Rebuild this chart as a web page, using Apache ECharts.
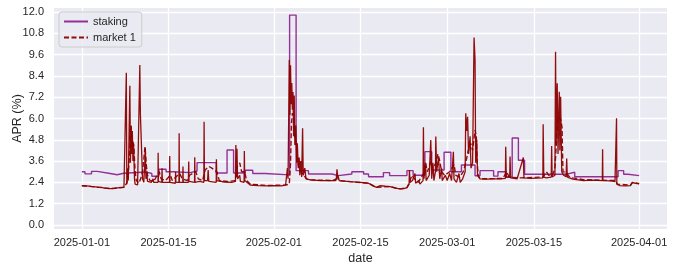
<!DOCTYPE html>
<html><head><meta charset="utf-8">
<script src="https://cdn.jsdelivr.net/npm/echarts@6/dist/echarts.min.js"></script>
<style>html,body{margin:0;padding:0;background:#fff}#c{width:675px;height:271px}</style>
</head><body><div id="c"></div>
<script>
// x values are days since 2025-01-01
const xTickDays = [0, 14, 31, 45, 59, 73, 90];
const xTickLabels = ['2025-01-01', '2025-01-15', '2025-02-01', '2025-02-15', '2025-03-01', '2025-03-15', '2025-04-01'];
const yTicks = [0, 1.2, 2.4, 3.6, 4.8, 6.0, 7.2, 8.4, 9.6, 10.8, 12.0];

const stakingPoints = [
  [0,3.0],[0.5,2.88],[1.56,3.02],[2.48,2.91],[4.35,2.83],[5.7,2.91],[6.77,2.98],[10.4,2.9],[11.3,2.74],
  [12.45,3.14],[13.6,3.0],[14.8,2.95],[17.5,3.04],[18.6,3.51],[21.7,2.93],[23.45,4.22],[24.5,2.93],
  [26.4,3.08],[27.6,2.9],[29.6,2.82],[33.55,11.83],[34.6,3.06],[36.6,2.87],[40.4,2.78],[41.4,2.87],
  [43.6,3.0],[45.5,2.87],[46.3,2.72],[48.7,2.95],[49.7,2.78],[52.5,3.06],[53.5,2.8],[55.4,4.13],
  [56.5,3.1],[58.5,4.1],[59.6,3.0],[61.3,3.38],[63.5,2.77],[64.3,3.06],[66.5,2.75],[67.2,3.0],
  [68.5,2.7],[69.5,4.9],[70.5,3.65],[71.5,2.86],[78.3,2.97],[79.6,2.72],[86.6,3.06],[87.5,2.86],
  [88.2,2.78],[90,2.78]
];

const market1Points = [
  [0,2.21],[2.5,2.13],[4.6,2.05],[6.8,2.12],[7.1,2.15],[7.3,2.4],[7.55,3.2],[7.8,4.6],[7.95,5.6],
  [8.1,4.3],[8.25,4.7],[8.4,4.4],[8.6,3.0],[8.8,2.5],[9.2,2.35],[9.5,2.6],[9.8,3.0],[10.0,3.7],
  [10.2,4.4],[10.4,3.4],[10.6,2.8],[11.0,2.5],[11.6,2.45],[12.0,2.7],[12.5,3.0],[12.8,2.6],[13.5,2.5],
  [14.3,2.8],[14.6,2.5],[15.8,2.9],[16.2,2.6],[17.0,2.5],[17.4,2.8],[18.4,3.0],[18.8,2.6],[19.5,2.5],
  [19.9,3.1],[20.5,3.3],[21.0,3.2],[21.8,3.0],[22.2,2.5],[23.5,2.45],[24.8,2.5],[25.1,3.3],[25.5,3.5],
  [25.8,3.0],[26.3,3.0],[26.6,2.5],[27.2,2.3],[30,2.22],[32.9,2.25],[33.5,2.3],[33.7,3.5],[33.85,5.7],
  [34.0,6.3],[34.2,6.0],[34.4,5.0],[34.6,4.6],[34.8,3.8],[35.0,3.3],[35.4,3.0],[35.8,2.8],[36.3,2.6],
  [36.9,2.54],[41.0,2.5],[41.3,2.8],[41.6,2.5],[43.3,2.44],[46.3,2.35],[47.6,2.12],[49.8,2.16],
  [51.4,2.03],[52.5,2.1],[52.9,2.4],[53.3,2.8],[53.7,2.6],[54.3,2.4],[55.2,2.9],[55.5,3.5],[55.8,3.0],
  [56.4,3.6],[56.7,3.2],[57.2,3.5],[57.5,4.0],[57.8,3.6],[58.1,3.0],[58.6,2.8],[59.4,3.0],[60.1,3.4],
  [60.4,2.8],[61.0,2.7],[61.6,3.0],[62.0,3.5],[62.4,4.2],[62.8,4.6],[63.1,4.2],[63.5,5.35],[63.7,5.0],
  [63.85,3.5],[64.0,2.8],[64.3,2.6],[68,2.62],[68.6,3.0],[69.0,2.7],[70.5,2.65],[74.5,2.7],[75.0,3.0],
  [75.4,2.8],[76.0,2.8],[76.4,3.2],[76.7,5.0],[76.9,6.1],[77.1,6.0],[77.3,6.0],[77.55,5.5],[77.7,3.0],
  [77.9,2.9],[78.3,2.95],[78.6,2.75],[79.3,2.65],[81,2.55],[84,2.52],[86.1,2.5],[86.5,2.3],[88.6,2.24],
  [88.9,2.4],[90,2.33]
];

const marketRawPoints = [
  [0,2.21],[0.8,2.2],[1.5,2.17],[2.5,2.13],[3.2,2.12],[3.6,2.08],[4.6,2.05],[5.3,2.06],[6.0,2.1],[6.8,2.12],[7.1,2.15],
  [7.18,8.58],[7.26,2.3],[7.4,3.2],[7.5,2.5],[7.75,7.85],[7.85,3.5],[7.95,5.58],[8.05,4.0],[8.15,5.3],[8.25,3.6],
  [8.35,4.6],[8.5,2.6],[8.6,2.3],[9.0,2.25],[9.3,2.3],[9.36,9.01],[9.45,6.29],[9.75,6.2],[9.8,2.6],[10.0,2.4],
  [10.15,3.4],[10.25,4.35],[10.35,2.6],[10.5,3.0],[10.6,2.45],[11.2,2.4],[11.5,2.6],[11.6,2.4],[12.3,2.4],
  [12.32,4.07],[12.36,2.45],[12.9,2.4],[12.95,3.2],[13.0,2.4],[13.6,2.4],[13.8,2.45],[14.15,2.4],[14.19,3.89],
  [14.23,2.4],[15.1,2.35],[15.14,3.0],[15.18,2.4],[15.68,2.4],[15.71,5.17],[15.75,2.4],[16.3,2.4],[16.33,3.3],
  [16.37,2.4],[17.2,2.4],[17.26,3.57],[17.3,2.45],[18.2,2.4],[18.23,3.81],[18.27,2.4],[19.0,2.45],[19.7,2.4],
  [19.74,5.82],[19.8,2.5],[20.3,2.5],[20.4,3.1],[20.5,2.45],[21.7,2.4],[21.73,3.7],[21.8,2.5],[22.0,2.4],
  [23,2.42],[24.2,2.4],[24.8,2.45],[24.87,4.5],[24.95,2.7],[25.05,4.3],[25.15,2.6],[25.5,2.8],[25.6,2.45],
  [26.2,2.4],[26.24,4.17],[26.3,2.5],[27.2,2.25],[28.5,2.22],[29.9,2.2],[31,2.22],[32.2,2.2],[32.9,2.25],
  [33.1,2.3],[33.2,3.2],[33.3,2.6],[33.4,5.9],[33.5,9.3],[33.6,6.2],[33.7,9.0],[33.8,6.8],[33.9,8.0],
  [34.0,6.5],[34.1,7.5],[34.2,5.0],[34.3,7.3],[34.4,4.5],[34.55,5.6],[34.7,3.5],[34.8,4.6],[34.95,3.2],
  [35.1,3.8],[35.2,2.8],[35.35,3.6],[35.5,2.7],[35.65,5.45],[35.75,2.8],[36.0,3.2],[36.2,2.6],[36.9,2.54],
  [38.5,2.5],[40.5,2.5],[41.1,2.6],[41.2,3.14],[41.35,2.6],[41.7,2.48],[43.3,2.44],[45,2.4],[46.3,2.35],
  [47.0,2.2],[47.6,2.12],[48.2,2.22],[49.0,2.18],[49.8,2.16],[50.6,2.08],[51.4,2.03],[52.0,2.05],[52.5,2.1],
  [52.85,2.3],[52.9,3.1],[53.0,2.4],[53.4,2.5],[53.8,2.9],[53.9,2.35],[54.4,2.5],[54.6,2.3],[55.1,2.5],
  [55.16,5.5],[55.25,2.6],[55.5,3.5],[55.6,2.5],[56.1,2.8],[56.35,4.79],[56.5,2.6],[56.7,3.5],[56.85,2.5],
  [57.1,3.0],[57.16,4.98],[57.3,3.0],[57.6,3.8],[57.8,2.6],[58.1,3.2],[58.2,2.5],[58.7,2.8],[59.0,2.5],
  [59.4,2.9],[59.7,2.5],[60.0,4.13],[60.1,2.6],[60.5,2.4],[60.9,2.9],[61.1,2.4],[61.5,2.6],[61.9,3.0],
  [62.0,6.29],[62.15,5.3],[62.3,6.1],[62.45,4.0],[62.7,5.0],[62.85,3.2],[63.1,3.5],[63.34,10.57],[63.5,9.3],
  [63.6,3.5],[63.77,4.8],[63.9,2.8],[64.3,2.6],[65.5,2.58],[66.5,2.6],[67.5,2.6],[68.4,2.62],[68.45,4.41],
  [68.55,2.7],[69.1,2.7],[69.15,3.85],[69.25,2.65],[70.3,2.6],[71.3,3.8],[71.4,2.65],[72.5,2.62],[74.45,2.65],
  [74.5,5.67],[74.6,2.7],[75.0,2.65],[75.8,2.7],[75.87,4.45],[75.95,2.7],[76.4,2.8],[76.5,9.76],[76.6,4.5],
  [76.77,7.98],[76.9,4.0],[77.1,7.51],[77.2,4.2],[77.32,7.23],[77.5,3.0],[77.8,2.8],[78.2,2.72],[78.3,3.75],
  [78.4,2.7],[79.3,2.58],[81,2.5],[82.5,2.52],[84.05,2.5],[84.1,4.26],[84.15,2.5],[85.5,2.48],[86.1,2.44],
  [86.33,2.44],[86.35,6.01],[86.4,2.3],[86.8,2.22],[87.8,2.2],[88.6,2.22],[88.9,2.38],[89.4,2.35],[90,2.31]
];

const FONT = '"Liberation Sans", Arial, sans-serif';
const TXT = '#262626';
const PURPLE = 'rgba(128,0,128,0.8)';
const DARKRED = 'rgba(139,0,0,0.95)';

const xGridLines = xTickDays.map((d, i) => ({ xAxis: d, label: { formatter: xTickLabels[i] } }));

const chart = echarts.init(document.getElementById('c'), null, { renderer: 'canvas' });
chart.setOption({
  animation: false,
  textStyle: { fontFamily: FONT },
  grid: { left: 54, right: 8, top: 8, bottom: 42, show: true, backgroundColor: '#EAEAF2', borderWidth: 0,
          containLabel: false, outerBoundsMode: 'none' },
  legend: {
    data: ['staking', 'market 1'],
    orient: 'vertical', left: 59, top: 12,
    padding: [4, 6, 4, 4], itemWidth: 24, itemHeight: 11, itemGap: 5,
    itemStyle: { opacity: 0 },
    backgroundColor: 'rgba(234,234,242,0.8)', borderColor: '#cccccc', borderWidth: 1, borderRadius: 3,
    textStyle: { fontSize: 11, color: TXT, fontFamily: FONT }
  },
  xAxis: {
    type: 'value', min: -4.5, max: 94.5,
    name: 'date', nameLocation: 'middle', nameGap: 23, nameMoveOverlap: false,
    nameTextStyle: { fontSize: 12.5, color: TXT, fontFamily: FONT },
    axisLine: { show: false }, axisTick: { show: false },
    axisLabel: { show: false },
    splitLine: { show: false }
  },
  yAxis: {
    type: 'value', min: -0.23, max: 12.23,
    name: 'APR (%)', nameLocation: 'middle', nameGap: 30, nameMoveOverlap: false,
    nameTextStyle: { fontSize: 12.5, color: TXT, fontFamily: FONT },
    axisLine: { show: false }, axisTick: { show: false, customValues: yTicks },
    axisLabel: {
      customValues: yTicks, color: TXT, fontSize: 11, margin: 10, fontFamily: FONT,
      formatter: v => v.toFixed(1)
    },
    splitLine: { show: true, lineStyle: { color: '#ffffff', width: 1.3 } }
  },
  series: [
    { name: 'staking', type: 'line', step: 'end', data: stakingPoints, symbol: 'none',
      lineStyle: { color: PURPLE, width: 1.4 }, itemStyle: { color: PURPLE }, z: 2,
      markLine: {
        silent: true, symbol: ['none', 'none'], z: 1, animation: false,
        lineStyle: { color: '#ffffff', width: 1.3, type: 'solid' },
        label: { show: true, position: 'start', distance: 8, color: TXT, fontSize: 11, fontFamily: FONT },
        emphasis: { disabled: true },
        data: xGridLines
      } },
    { name: 'market 1', type: 'line', data: market1Points, symbol: 'none',
      lineStyle: { color: DARKRED, width: 1.4, type: [5, 2.5] }, itemStyle: { color: DARKRED }, z: 3 },
    { name: 'market 1 raw', type: 'line', data: marketRawPoints, symbol: 'none',
      lineStyle: { color: DARKRED, width: 1.3 }, itemStyle: { color: DARKRED }, z: 4 }
  ]
});
</script></body></html>
